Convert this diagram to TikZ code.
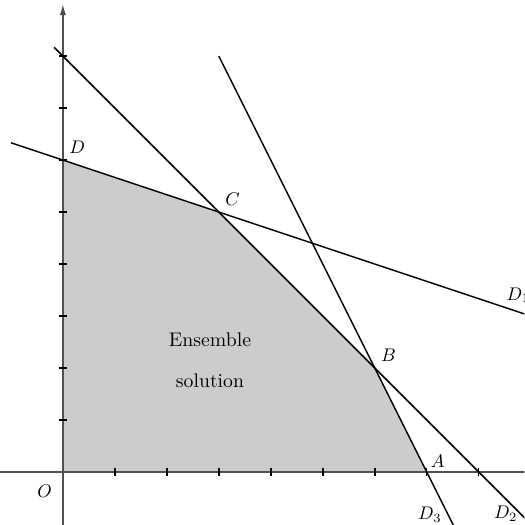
\documentclass[tikz,border=0pt]{standalone}
\usepackage{amsmath}
\usepackage{tikz}
\usetikzlibrary{
	arrows.meta,
	calc,
	positioning
}
\definecolor{AxisGray}{RGB}{80,80,80}
\definecolor{RegionGray}{RGB}{204,204,204}

\begin{document}
\begin{tikzpicture}
		\useasboundingbox (-1.21,-1.02) rectangle (8.88,9.08);
		\clip (-1.21,-1.02) rectangle (8.88,9.08);
		
		% sommets du polygone
		\coordinate (O) at (0,0);
		\coordinate (A) at (7,0);
		\coordinate (B) at (6,2);
		\coordinate (C) at (3,5);
		\coordinate (D) at (0,6);
		
		% ensemble solution
		\fill[RegionGray] (O) -- (A) -- (B) -- (C) -- (D) -- cycle;
		\node[align=center, font=\fontsize{10.8}{22}\selectfont] (ens) at (2.83,2.15) {Ensemble\\solution};
		
		% axes
		\coordinate (xmin) at (-1.3,0);
		\coordinate (xmax) at (9,0);
		\coordinate (ymin) at (0,-1.1);
		\coordinate (ymax) at (0,9);
		\draw[thick, AxisGray] (xmin) -- (xmax);
		\draw[thick, AxisGray, -{Latex[length=6pt,width=3.5pt]}] (ymin) -- (ymax);
		\foreach \i in {1,...,8} {
			\draw[thick] (\i,-0.08) -- (\i,0.08);
			\draw[thick] (-0.08,\i) -- (0.08,\i);
		}
		
		% droite D1 : x+3y=18
		\coordinate (d1a) at (-1,19/3);
		\coordinate (d1b) at (9,3);
		\draw[thick] (d1a) -- (d1b);
		
		% droite D2 : x+y=8
		\coordinate (d2a) at (-0.17,8.17);
		\coordinate (d2b) at (9.2,-1.2);
		\draw[thick] (d2a) -- (d2b);
		
		% droite D3 : 2x+y=14
		\coordinate (d3a) at (3,8);
		\coordinate (d3b) at (7.6,-1.2);
		\draw[thick] (d3a) -- (d3b);
		
		\node[above right, inner sep=2pt] (lA) at (A) {$A$};
		\node[above right] (lB) at (B) {$B$};
		\node[above right] (lC) at (C) {$C$};
		\node[above right] (lD) at (D) {$D$};
		\node (lO) at (-0.35,-0.38) {$O$};
		\node (lD1) at (8.76,3.4) {$D_1$};
		\node (lD2) at (8.52,-0.8) {$D_2$};
		\node (lD3) at (7.06,-0.83) {$D_3$};
	\end{tikzpicture}
\end{document}
